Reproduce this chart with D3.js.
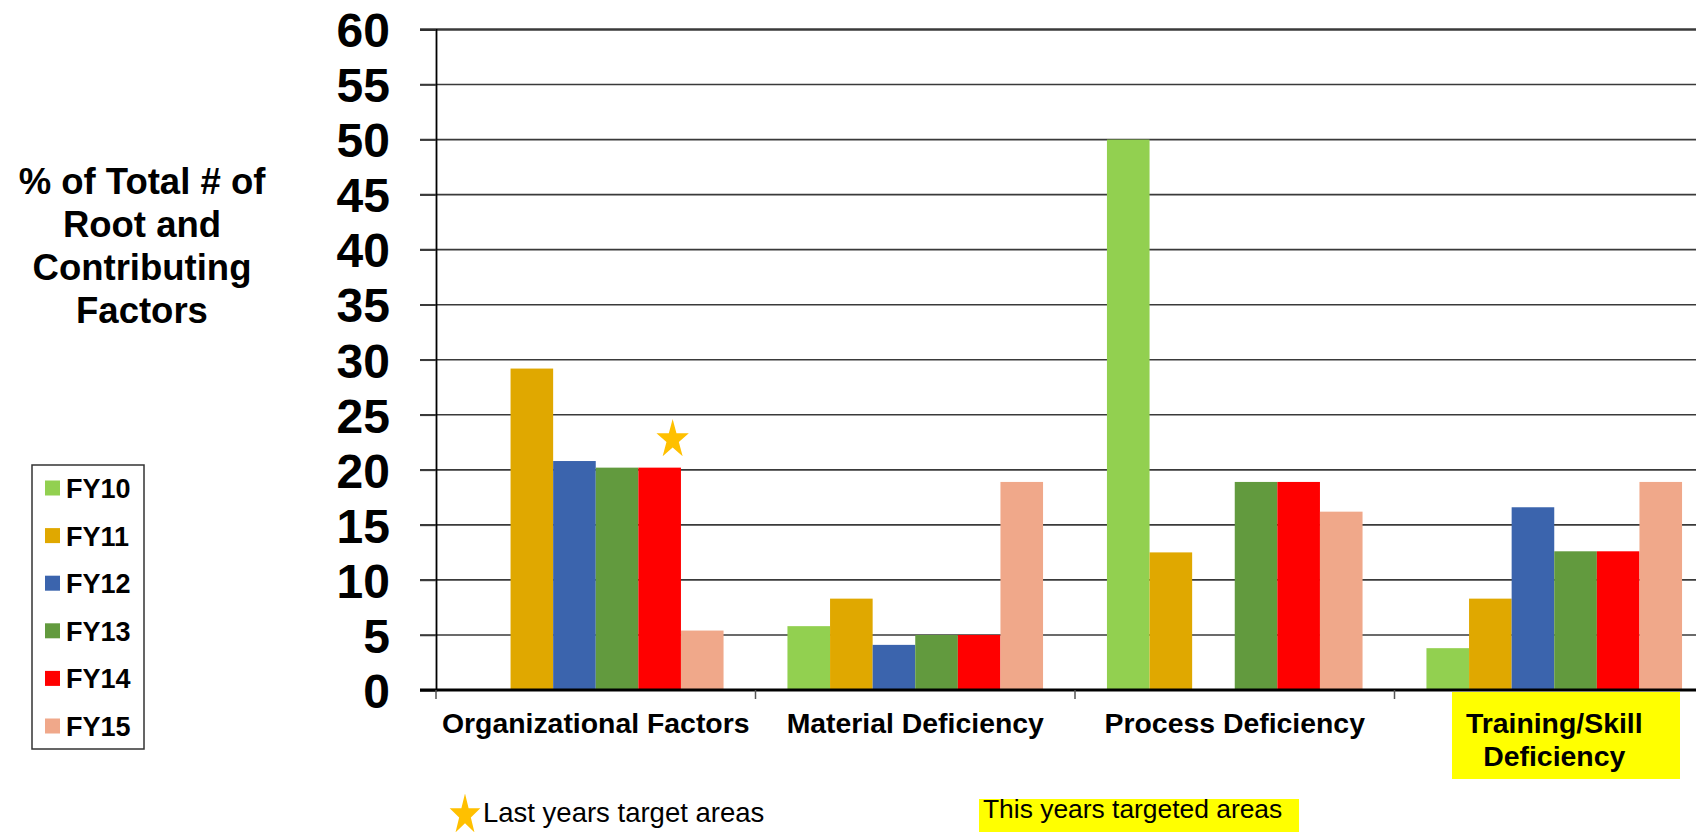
<!DOCTYPE html>
<html>
<head>
<meta charset="utf-8">
<title>Root and Contributing Factors</title>
<style>
  body { margin: 0; background: #fff; }
  text { font-family: "Liberation Sans", Arial, sans-serif; }
</style>
</head>
<body>
<svg width="1696" height="832"></svg>
<script src="https://d3js.org/d3.v7.min.js"></script>
<script>
// data
var categories = ["Organizational Factors", "Material Deficiency", "Process Deficiency", "Training/Skill Deficiency"];
var series = ["FY10", "FY11", "FY12", "FY13", "FY14", "FY15"];
var colors = ["#92D050", "#E0A800", "#3B64AD", "#629A3E", "#FF0000", "#F0A88A"];
var fy10 = [0, 5.8, 50, 3.8];
var fy11 = [29.2, 8.3, 12.5, 8.3];
var fy12 = [20.8, 4.1, 0, 16.6];
var fy13 = [20.2, 5.0, 18.9, 12.6];
var fy14 = [20.2, 5.0, 18.9, 12.6];
var fy15 = [5.4, 18.9, 16.2, 18.9];
var yTicks = [0, 5, 10, 15, 20, 25, 30, 35, 40, 45, 50, 55, 60];

var values = [fy10, fy11, fy12, fy13, fy14, fy15];

var svg = d3.select("svg"),
    width = +svg.attr("width"),
    height = +svg.attr("height");

var y = d3.scaleLinear()
    .domain([0, 60])
    .range([690, 29.5]);

var x0 = d3.scaleBand()     // one band per category
    .domain(categories)
    .range([436, 1714]);

var x1 = d3.scaleBand()     // one bar per fiscal year inside a band
    .domain(series)
    .range([0, x0.bandwidth()])
    .paddingOuter(0.75);

var color = d3.scaleOrdinal().domain(series).range(colors);

// highlight behind the targeted category label
var hl = x0("Training/Skill Deficiency");
svg.append("rect")
    .attr("x", hl + 57.5)
    .attr("y", 692)
    .attr("width", 228)
    .attr("height", 87)
    .attr("fill", "#FFFF00");

// gridlines
svg.append("g")
  .selectAll("line")
  .data(yTicks.slice(1))
  .enter().append("line")
    .attr("x1", 420)
    .attr("x2", width)
    .attr("y1", function(d) { return y(d); })
    .attr("y2", function(d) { return y(d); })
    .attr("stroke", "#3a3a3a")
    .attr("stroke-width", function(d) { return d == 60 ? 2.5 : 1.6; });

// bars
var rows = [];
categories.forEach(function(c, i) {
  series.forEach(function(s, j) {
    rows.push({cat: c, fy: s, v: values[j][i]});
  });
});

svg.append("g")
  .selectAll("rect")
  .data(rows.filter(function(d) { return d.v > 0; }))
  .enter().append("rect")
    .attr("x", function(d) { return x0(d.cat) + x1(d.fy); })
    .attr("y", function(d) { return y(d.v); })
    .attr("width", x1.bandwidth())
    .attr("height", function(d) { return y(0) - y(d.v); })
    .attr("fill", function(d) { return color(d.fy); });

// y axis
var yAxis = svg.append("g")
    .attr("transform", "translate(436,0)")
    .call(d3.axisLeft(y).tickValues(yTicks).tickSize(16).tickPadding(30));
yAxis.select(".domain").attr("stroke", "#000").attr("stroke-width", 1.8);
yAxis.selectAll(".tick line").attr("stroke", "#3a3a3a").attr("stroke-width", 1.6);
yAxis.selectAll(".tick text")
    .attr("font-family", "'Liberation Sans', Arial, sans-serif")
    .attr("font-size", 48)
    .attr("font-weight", "bold")
    .attr("fill", "#000")
    .attr("dy", "0.36em");

// x axis
var xAxis = svg.append("g")
    .attr("transform", "translate(0,690)");
xAxis.append("line")
    .attr("x1", 420).attr("x2", width)
    .attr("stroke", "#000").attr("stroke-width", 3);
xAxis.selectAll(".sep")
  .data(categories)
  .enter().append("line")
    .attr("class", "sep")
    .attr("x1", function(d) { return x0(d); })
    .attr("x2", function(d) { return x0(d); })
    .attr("y1", 0).attr("y2", 9)
    .attr("stroke", "#555").attr("stroke-width", 1.5);

var labels = svg.append("g")
    .attr("font-size", 28.4)
    .attr("font-weight", "bold")
    .attr("text-anchor", "middle");
labels.selectAll("text")
  .data(categories)
  .enter().append("text")
    .attr("x", function(d) { return x0(d) + x0.bandwidth() / 2; })
    .attr("y", 733)
    .each(function(d) {
      var parts = d == "Training/Skill Deficiency" ? ["Training/Skill", "Deficiency"] : [d];
      var t = d3.select(this);
      parts.forEach(function(p, i) {
        t.append("tspan")
          .attr("x", x0(d) + x0.bandwidth() / 2)
          .attr("dy", i == 0 ? 0 : 33)
          .text(p);
      });
    });

// y axis title
var title = ["% of Total # of", "Root and", "Contributing", "Factors"];
svg.append("g")
    .attr("font-size", 36.5)
    .attr("font-weight", "bold")
    .attr("text-anchor", "middle")
  .selectAll("text")
  .data(title)
  .enter().append("text")
    .attr("x", 142)
    .attr("y", function(d, i) { return 194 + i * 43; })
    .text(function(d) { return d; });

// star over last year's target (FY14, Organizational Factors)
var star = d3.symbol().type(d3.symbolStar);
svg.append("path")
    .attr("d", star.size(360)())
    .attr("fill", "#FFC000")
    .attr("transform", "translate(" + (x0("Organizational Factors") + x1("FY14") + x1.bandwidth() / 2 + 13) + "," + (y(fy14[0]) - 28) + ") scale(0.95,1.15)");

// legend
var legend = svg.append("g");
legend.append("rect")
    .attr("x", 32).attr("y", 465)
    .attr("width", 112).attr("height", 284)
    .attr("fill", "#fff")
    .attr("stroke", "#333").attr("stroke-width", 1.5);
var item = legend.selectAll(".item")
  .data(series)
  .enter().append("g")
    .attr("class", "item")
    .attr("transform", function(d, i) { return "translate(45," + (488 + i * 47.6) + ")"; });
item.append("rect")
    .attr("x", 0).attr("y", -7.5)
    .attr("width", 15).attr("height", 15)
    .attr("fill", function(d) { return color(d); });
item.append("text")
    .attr("x", 21).attr("y", 10)
    .attr("font-size", 27)
    .attr("font-weight", "bold")
    .text(function(d) { return d; });

// notes under the chart
svg.append("path")
    .attr("d", star.size(360)())
    .attr("fill", "#FFC000")
    .attr("transform", "translate(465,815) scale(0.9,1.2)");
svg.append("text")
    .attr("x", 483).attr("y", 822)
    .attr("font-size", 27.5)
    .text("Last years target areas");

svg.append("rect")
    .attr("x", 979).attr("y", 799)
    .attr("width", 320).attr("height", 33)
    .attr("fill", "#FFFF00");
svg.append("text")
    .attr("x", 983).attr("y", 818)
    .attr("font-size", 26.4)
    .text("This years targeted areas");
</script>
</body>
</html>
